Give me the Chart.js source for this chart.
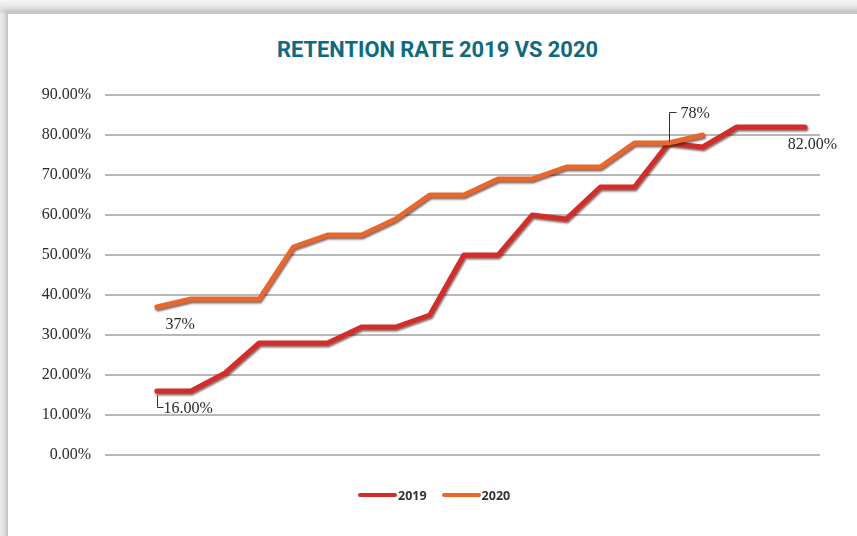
<!DOCTYPE html>
<html>
<head>
<meta charset="utf-8">
<script src="https://cdn.jsdelivr.net/npm/chart.js@4.4.1/dist/chart.umd.min.js"></script>
<style>
  html, body { margin: 0; padding: 0; }
  body { width: 857px; height: 536px; overflow: hidden; position: relative;
         background: linear-gradient(#f6f6f6 0px, #e4e4e4 8px, #d8d8d8 12px, #ececec 14px); }
  #card { position: absolute; left: 6px; top: 12px; width: 880px; height: 560px; background: #fff;
          border-left: 2px solid #c6c6c6; border-top: 2px solid #c6c6c6;
          box-shadow: -2px -2px 5px rgba(0,0,0,0.12); }
  #title { position: absolute; top: 36px; left: 0; width: 875px; text-align: center;
           font-family: Roboto, sans-serif; font-weight: 700; font-size: 22px; color: #0e6a80;
           line-height: 28px; white-space: nowrap; }
  #title span { display: inline-block; transform-origin: center; }
  #wrap { position: absolute; left: 0; top: 0; width: 857px; height: 536px; }
  #legend { position: absolute; top: 487px; left: 358px; height: 16px;
            font-family: "Open Sans", sans-serif; font-weight: 700; font-size: 12.5px; color: #333;
            display: flex; align-items: center; white-space: nowrap; }
  .sw { display: inline-block; width: 39px; height: 4px; border-radius: 2px; margin-right: 1px; }
</style>
</head>
<body>
<div id="card"></div>
<div id="title"><span id="titletext">RETENTION RATE 2019 VS 2020</span></div>
<div id="wrap"><canvas id="c" width="857" height="536"></canvas></div>
<div id="legend"></div>
<script>
// ---- data ----
const periods = ['1','2','3','4','5','6','7','8','9','10','11','12','13','14','15','16','17','18','19','20'];
const seriesNames = ['2019', '2020'];
const retention2019 = [16, 16, 20.5, 28, 28, 28, 32, 32, 35, 50, 50, 60, 59, 67, 67, 78, 77, 82, 82, 82];
const retention2020 = [37, 39, 39, 39, 52, 55, 55, 59, 65, 65, 69, 69, 72, 72, 78, 78, 80];
const yTicks = [0, 10, 20, 30, 40, 50, 60, 70, 80, 90];
const pointLabels = [
  { series: 0, index: 0,  text: '16.00%' },
  { series: 1, index: 0,  text: '37%' },
  { series: 1, index: 15, text: '78%' },
  { series: 0, index: 19, text: '82.00%' }
];
const colors = ['#d42c2a', '#e8672d'];

// title width fit
(function(){
  const s = document.getElementById('titletext');
  const w = s.getBoundingClientRect().width;
  s.style.transform = 'scaleX(' + (321 / w) + ')';
  document.getElementById('title').style.left = (437.5 - 875/2) + 'px';
})();

// legend
(function(){
  const lg = document.getElementById('legend');
  seriesNames.forEach((n, i) => {
    const sw = document.createElement('span'); sw.className = 'sw'; sw.style.background = colors[i];
    const t = document.createElement('span'); t.textContent = n;
    if (i > 0) sw.style.marginLeft = '15px';
    lg.appendChild(sw); lg.appendChild(t);
  });
})();

const toXY = arr => arr.map((v, i) => ({ x: i, y: v }));

const shadowPlugin = {
  id: 'shadow',
  beforeDatasetDraw(chart) {
    const ctx = chart.ctx; ctx.save();
    ctx.shadowColor = 'rgba(60,10,0,0.6)';
    ctx.shadowOffsetX = 1; ctx.shadowOffsetY = 2; ctx.shadowBlur = 2;
  },
  afterDatasetDraw(chart) { chart.ctx.restore(); }
};

const labelPlugin = {
  id: 'ptLabels',
  afterDatasetsDraw(chart) {
    const ctx = chart.ctx;
    ctx.save();
    ctx.font = '16px "Liberation Serif", "Times New Roman", serif';
    ctx.fillStyle = '#2a2a2a';
    ctx.strokeStyle = '#333';
    ctx.lineWidth = 1;
    ctx.textBaseline = 'middle';
    pointLabels.forEach(l => {
      const p = chart.getDatasetMeta(l.series).data[l.index];
      const x = Math.round(p.x) + 0.5, y = Math.round(p.y) + 0.5;
      if (l.series === 0 && l.index === 0) {
        ctx.beginPath(); ctx.moveTo(x, y + 4); ctx.lineTo(x, y + 16); ctx.lineTo(x + 6, y + 16); ctx.stroke();
        ctx.textAlign = 'left'; ctx.fillText(l.text, x + 6, y + 17);
      } else if (l.series === 1 && l.index === 0) {
        ctx.textAlign = 'left'; ctx.fillText(l.text, x + 8, y + 17);
      } else if (l.series === 1) {
        ctx.beginPath(); ctx.moveTo(x, y - 2); ctx.lineTo(x, y - 31); ctx.lineTo(x + 7, y - 31); ctx.stroke();
        ctx.textAlign = 'left'; ctx.fillText(l.text, x + 11, y - 30);
      } else {
        ctx.textAlign = 'center'; ctx.fillText(l.text, x + 7, y + 17);
      }
    });
    ctx.restore();
  }
};

new Chart(document.getElementById('c'), {
  type: 'line',
  data: {
    labels: periods,
    datasets: [
      { label: seriesNames[0], data: toXY(retention2019), borderColor: colors[0], backgroundColor: colors[0],
        borderWidth: 5, pointRadius: 0, tension: 0, order: 1, borderJoinStyle: 'round', borderCapStyle: 'round' },
      { label: seriesNames[1], data: toXY(retention2020), borderColor: colors[1], backgroundColor: colors[1],
        borderWidth: 5, pointRadius: 0, tension: 0, order: 0, borderJoinStyle: 'round', borderCapStyle: 'round' }
    ]
  },
  options: {
    responsive: false,
    animation: false,
    devicePixelRatio: 1,
    layout: { padding: { top: 95, right: 37, bottom: 81, left: 0 } },
    plugins: { legend: { display: false }, title: { display: false }, tooltip: { enabled: false } },
    scales: {
      x: { type: 'linear', display: false, min: -1.52, max: 19.44 },
      y: {
        min: 0, max: 90,
        afterFit(s) { s.width = 105; },
        afterBuildTicks(s) { s.ticks = yTicks.map(v => ({ value: v })); },
        border: { display: false },
        grid: { color: '#b8b8b8', lineWidth: 2, drawTicks: false },
        ticks: {
          padding: 14,
          color: '#2a2a2a',
          font: { family: '"Liberation Serif", "Times New Roman", serif', size: 16 },
          callback: v => v.toFixed(2) + '%'
        }
      }
    }
  },
  plugins: [shadowPlugin, labelPlugin]
});
</script>
</body>
</html>
